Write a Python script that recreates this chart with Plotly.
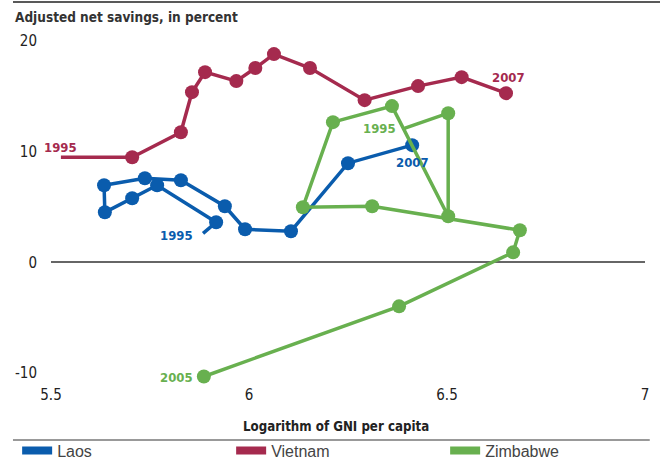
import plotly.graph_objects as go

# ---- data ----
years_vn = list(range(1995, 2008))
vietnam_x = [5.525, 5.705, 5.828, 5.856, 5.889, 5.968, 6.016, 6.063, 6.154, 6.292, 6.427, 6.537, 6.649]
vietnam_y = [9.50, 9.50, 11.76, 15.38, 17.19, 16.38, 17.56, 18.82, 17.56, 14.66, 15.93, 16.74, 15.29]

years_la = list(range(1995, 2008))
laos_x = [5.884, 5.917, 5.768, 5.705, 5.636, 5.634, 5.737, 5.828, 5.939, 5.990, 6.106, 6.250, 6.412]
laos_y = [2.62, 3.62, 6.97, 5.79, 4.52, 6.97, 7.60, 7.42, 5.07, 2.99, 2.81, 8.96, 10.59]

years_zw = list(range(1995, 2006))
zimbabwe_x = [6.394, 6.503, 6.503, 6.361, 6.212, 6.136, 6.311, 6.684, 6.667, 6.379, 5.886]
zimbabwe_y = [12.13, 13.48, 4.16, 14.12, 12.67, 4.98, 5.07, 2.90, 0.90, -3.98, -10.32]

x_ticks = [5.5, 6, 6.5, 7]
x_tick_labels = ["5.5", "6", "6.5", "7"]
y_ticks = [-10, 0, 10, 20]
y_tick_labels = ["-10", "0", "10", "20"]

COL_LA = "#0A5CAD"
COL_VN = "#A52A4E"
COL_ZW = "#68B04F"

COND = "Liberation Sans Narrow, DejaVu Sans Condensed, Arial Narrow, sans-serif"

fig = go.Figure()

def add_series(name, xs, ys, ys_years, color):
    sizes = [0] + [14] * (len(xs) - 1)
    fig.add_trace(go.Scatter(
        x=xs, y=ys, mode="lines+markers", name=name, showlegend=False,
        line=dict(color=color, width=3.5),
        marker=dict(color=color, size=sizes, opacity=1, line=dict(width=0)),
        customdata=ys_years, hovertemplate="%{customdata}: %{x}, %{y}<extra>" + name + "</extra>",
    ))

add_series("Laos", laos_x, laos_y, years_la, COL_LA)
add_series("Vietnam", vietnam_x, vietnam_y, years_vn, COL_VN)
add_series("Zimbabwe", zimbabwe_x, zimbabwe_y, years_zw, COL_ZW)

# legend-only traces
for name, color in [("Laos", COL_LA), ("Vietnam", COL_VN), ("Zimbabwe", COL_ZW)]:
    fig.add_trace(go.Scatter(x=[None], y=[None], mode="lines", name=name,
                             line=dict(color=color, width=8), showlegend=True))

# year annotations
def year_label(text, x, y, color, xanchor, xshift=0, yshift=0):
    fig.add_annotation(x=x, y=y, text="<b>%s</b>" % text, showarrow=False,
                       xanchor=xanchor, yanchor="middle", xshift=xshift, yshift=yshift,
                       font=dict(family=COND, size=13, color=color))

year_label(str(years_vn[0]), vietnam_x[0], vietnam_y[0], COL_VN, "center", yshift=10)
year_label(str(years_vn[-1]), vietnam_x[-1], vietnam_y[-1], COL_VN, "center", xshift=2, yshift=16)
year_label(str(years_la[0]), laos_x[0], laos_y[0], COL_LA, "right", xshift=-8, yshift=-2)
year_label(str(years_la[-1]), laos_x[-1], laos_y[-1], COL_LA, "center", yshift=-17)
year_label(str(years_zw[0]), zimbabwe_x[0], zimbabwe_y[0], COL_ZW, "right", xshift=-7)
year_label(str(years_zw[-1]), zimbabwe_x[-1], zimbabwe_y[-1], COL_ZW, "right", xshift=-9, yshift=-1)

# titles
fig.add_annotation(xref="paper", yref="paper", x=-0.064, y=1.037, xanchor="left", yanchor="middle",
                   text="<b>Adjusted net savings, in percent</b>", showarrow=False,
                   font=dict(family=COND, size=13.5, color="#333333"))
fig.add_annotation(xref="paper", yref="paper", x=0.48, y=-0.119, xanchor="center", yanchor="middle",
                   text="<b>Logarithm of GNI per capita</b>", showarrow=False,
                   font=dict(family=COND, size=13.2, color="#222222"))

# rules
fig.add_shape(type="line", xref="paper", yref="paper", x0=-0.064, x1=1.03, y0=1.079, y1=1.079,
              line=dict(color="#222222", width=1.5))
fig.add_shape(type="line", xref="paper", yref="paper", x0=-0.064, x1=1.008, y0=-0.158, y1=-0.158,
              line=dict(color="#999999", width=2))

fig.update_layout(
    width=660, height=461,
    margin=dict(l=51, r=15, t=30, b=77, autoexpand=False),
    paper_bgcolor="white", plot_bgcolor="white",
    showlegend=True,
    legend=dict(orientation="h", x=-0.057, xanchor="left", y=-0.14, yanchor="top",
                entrywidth=169, entrywidthmode="pixels",
                font=dict(family="Liberation Sans, Arial, sans-serif", size=16, color="#444444"),
                bgcolor="rgba(0,0,0,0)"),
    xaxis=dict(range=[5.5, 7], tickvals=x_ticks, ticktext=x_tick_labels, showgrid=False,
               zeroline=False, showline=False, ticks="",
               tickfont=dict(family=COND, size=15, color="#222222")),
    yaxis=dict(range=[-11, 21], tickvals=y_ticks, ticktext=y_tick_labels, showgrid=False,
               zeroline=True, zerolinecolor="#666666", zerolinewidth=1.5, showline=False, ticks="",
               ticklabelstandoff=13,
               tickfont=dict(family=COND, size=15, color="#222222")),
)

fig.write_html("out.html", config={"displayModeBar": False},
               post_script="document.body.style.margin='0';")
